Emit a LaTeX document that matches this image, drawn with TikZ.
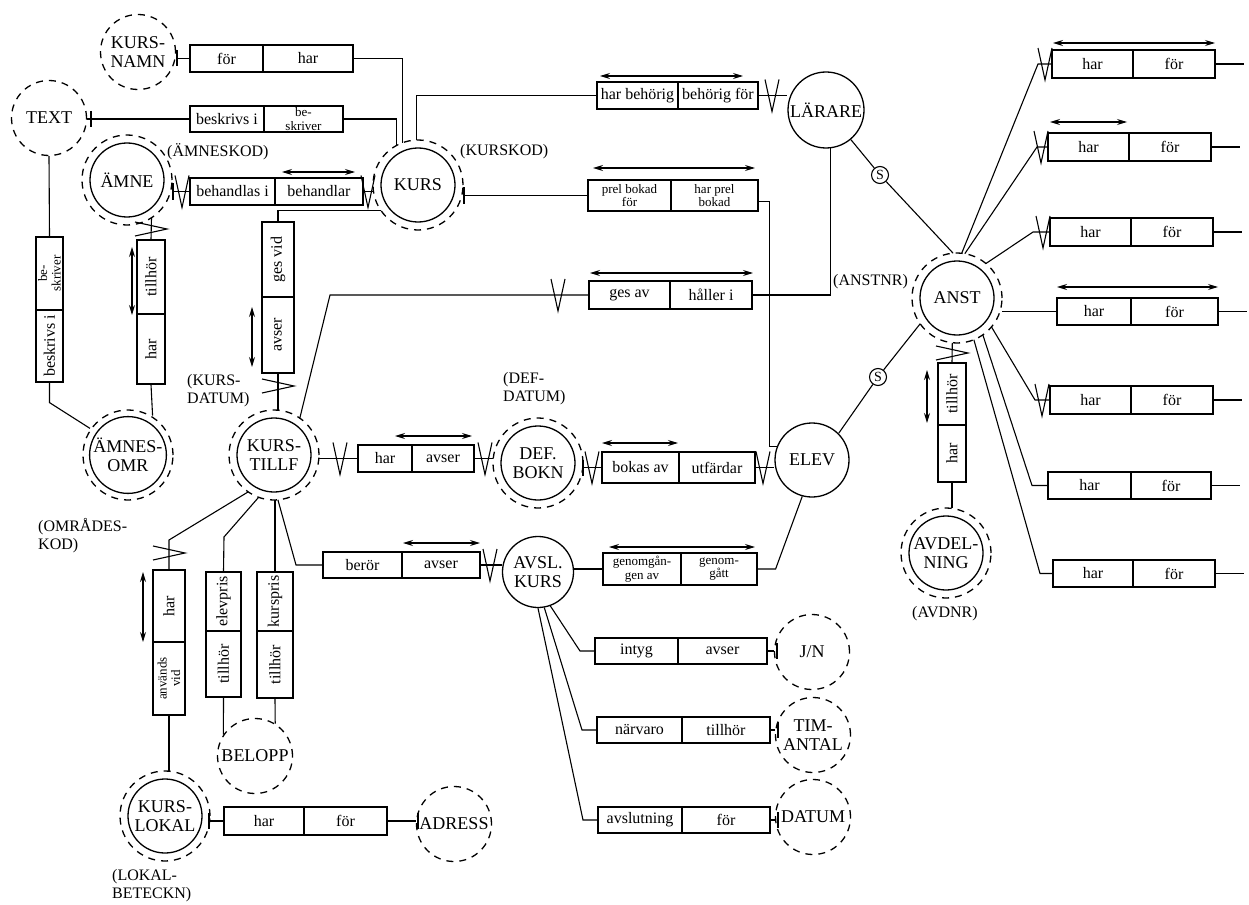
\documentclass[tikz,border=0pt]{standalone}
\usepackage{fontspec}
\setmainfont{Liberation Serif}
\usetikzlibrary{arrows.meta}
\tikzset{
  ln/.style={line width=1.1pt},
  ent/.style={circle, draw, line width=1.3pt, minimum size=74pt, inner sep=0pt, align=center, font=\fontsize{18}{19}\selectfont},
  dent/.style={ent, outer sep=8pt},
  attr/.style={circle, draw, line width=1.3pt, dash pattern=on 7pt off 6pt, minimum size=75pt, inner sep=0pt, align=center, font=\fontsize{18}{19}\selectfont},
  ring/.style={line width=1.3pt, dash pattern=on 7pt off 6pt},
  bx/.style={draw, rectangle, line width=1.2pt, inner sep=0pt, align=center, font=\fontsize{16}{13}\selectfont},
  sm/.style={font=\fontsize{13}{13.5}\selectfont},
  lab/.style={align=left, anchor=west, font=\fontsize{16}{18}\selectfont, inner sep=0pt},
  arr/.style={line width=1.1pt, {Stealth[length=10pt,width=6pt]}-{Stealth[length=10pt,width=6pt]}},
  sc/.style={circle, draw, line width=1.1pt, minimum size=17pt, inner sep=0pt, font=\fontsize{14}{14}\selectfont},
}
% horizontal half: name, xleft, xright, ytop, ybottom, text, style
\newcommand\hh[7]{\node[bx,#7, minimum width={#3-#2}, minimum height={#5-#4}] (#1) at ({(#2+#3)/2},{(#4+#5)/2}) {#6};}
% vertical half (text rotated): name, xleft, xright, ytop, ybottom, text, style
\newcommand\vh[7]{\node[bx,rotate=90,#7, minimum width={#5-#4}, minimum height={#3-#2}] (#1) at ({(#2+#3)/2},{(#4+#5)/2}) {#6};}
\newcommand\crowD[2]{\draw[ln] (#1-7,#2-16) -- (#1,#2+16) -- (#1+7,#2-16);}
\newcommand\crowR[2]{\draw[ln] (#1-16,#2-7) -- (#1+16,#2) -- (#1-16,#2+7);}
\newcommand\tk[2]{\draw[ln] (#1,#2-8) -- (#1,#2+8);}
\begin{document}
\begin{tikzpicture}[x=1pt,y=-1pt]
\fill[white] (0,0) rectangle (1249,904);
\useasboundingbox (0,0) rectangle (1249,904);

% ---------- entities ----------
\node[dent] (kurs) at (418,185) {KURS};
\node[dent] (amne) at (127,180) {ÄMNE};
\node[dent] (aomr) at (128,455) {ÄMNES-\\OMR};
\node[dent] (kt) at (274,455) {KURS-\\TILLF};
\node[dent] (def) at (538,463) {DEF.\\BOKN};
\node[ent, minimum size=71pt] (avsl) at (538,572) {AVSL.\\KURS};
\node[ent] (elev) at (812,460) {ELEV};
\node[ent, minimum size=76pt] (lar) at (826,110) {LÄRARE};
\node[dent] (anst) at (957,298) {ANST};
\node[dent] (avd) at (946,553) {AVDEL-\\NING};
\node[dent] (kl) at (165,816) {KURS-\\LOKAL};
\foreach \n in {kurs,amne,aomr,kt,def,anst,avd,kl}
  \draw[ring] (\n.center) circle[radius=45pt];

% ---------- attributes ----------
\node[attr] (knamn) at (138,52) {KURS-\\NAMN};
\node[attr] (txt) at (49,118) {TEXT};
\node[attr] (belopp) at (255,756) {BELOPP};
\node[attr] (adr) at (454,824) {ADRESS};
\node[attr] (jn) at (812,652) {J/N};
\node[attr] (tim) at (813,735) {TIM-\\ANTAL};
\node[attr] (datum) at (813,817) {DATUM};

% ---------- key labels ----------
\node[lab] (l1) at (167,152) {(ÄMNESKOD)};
\node[lab] (l2) at (460,152) {(KURSKOD)};
\node[lab] (l3) at (833,282) {(ANSTNR)};
\node[lab] (l4) at (187,391) {(KURS-\\DATUM)};
\node[lab] (l5) at (503,389) {(DEF-\\DATUM)};
\node[lab] (l6) at (38,536) {(OMRÅDES-\\KOD)};
\node[lab] (l7) at (112,886) {(LOKAL-\\BETECKN)};
\node[lab] (l8) at (912,614) {(AVDNR)};

\node[sc] (s1) at (880,175) {S};
\node[sc] (s2) at (878,377) {S};

% ---------- horizontal relation boxes ----------
\hh{H1l}{190}{263}{45}{72}{för}{}
\hh{H1r}{263}{353}{45}{72}{har}{}
\hh{H2l}{190}{264}{106}{132}{beskrivs i}{}
\hh{H2r}{264}{343}{106}{132}{be-\\skriver}{sm}
\hh{H3l}{190}{275}{178}{205}{behandlas i}{}
\hh{H3r}{275}{363}{178}{205}{behandlar}{}
\hh{H4l}{597}{678}{82}{109}{har behörig}{}
\hh{H4r}{678}{758}{82}{109}{behörig för}{}
\hh{H5l}{588}{671}{180}{211}{prel bokad\\för}{sm}
\hh{H5r}{671}{758}{180}{211}{har prel\\bokad}{sm}
\hh{H6l}{589}{670}{281}{309}{ges av}{}
\hh{H6r}{670}{752}{281}{309}{håller i}{}
\hh{H7l}{358}{412}{445}{472}{har}{}
\hh{H7r}{412}{474}{445}{472}{avser}{}
\hh{H8l}{602}{679}{452}{483}{bokas av}{}
\hh{H8r}{679}{755}{452}{483}{utfärdar}{}
\hh{H9l}{323}{402}{552}{578}{berör}{}
\hh{H9r}{402}{480}{552}{578}{avser}{}
\hh{H10l}{603}{681}{553}{585}{genomgån-\\gen av}{sm}
\hh{H10r}{681}{757}{553}{585}{genom-\\gått}{sm}
\hh{H11l}{595}{678}{638}{664}{intyg}{}
\hh{H11r}{678}{767}{638}{664}{avser}{}
\hh{H12l}{597}{682}{717}{743}{närvaro}{}
\hh{H12r}{682}{770}{717}{743}{tillhör}{}
\hh{H13l}{598}{682}{807}{833}{avslutning}{}
\hh{H13r}{682}{770}{807}{833}{för}{}
\hh{H14l}{224}{304}{807}{835}{har}{}
\hh{H14r}{304}{387}{807}{835}{för}{}
% right column
\hh{Rl1}{1052}{1133}{50}{78}{har}{}
\hh{Rr1}{1133}{1215}{50}{78}{för}{}
\hh{Rl2}{1048}{1129}{133}{161}{har}{}
\hh{Rr2}{1129}{1211}{133}{161}{för}{}
\hh{Rl3}{1050}{1131}{218}{246}{har}{}
\hh{Rr3}{1131}{1213}{218}{246}{för}{}
\hh{Rl4}{1057}{1131}{298}{325}{har}{}
\hh{Rr4}{1131}{1218}{298}{325}{för}{}
\hh{Rl5}{1050}{1131}{386}{414}{har}{}
\hh{Rr5}{1131}{1213}{386}{414}{för}{}
\hh{Rl6}{1048}{1131}{472}{499}{har}{}
\hh{Rr6}{1131}{1211}{472}{499}{för}{}
\hh{Rl7}{1053}{1133}{560}{587}{har}{}
\hh{Rr7}{1133}{1215}{560}{587}{för}{}

% ---------- vertical relation boxes ----------
\vh{V1t}{36}{63}{237}{310}{be-\\skriver}{sm}
\vh{V1b}{36}{63}{310}{382}{beskrivs i}{}
\vh{V2t}{137}{165}{240}{314}{tillhör}{}
\vh{V2b}{137}{165}{314}{384}{har}{}
\vh{V3t}{262}{294}{222}{297}{ges vid}{}
\vh{V3b}{262}{294}{297}{373}{avser}{}
\vh{V4t}{153}{185}{570}{642}{har}{}
\vh{V4b}{153}{185}{642}{715}{används\\vid}{sm}
\vh{V5t}{206}{241}{572}{631}{elevpris}{}
\vh{V5b}{206}{241}{631}{697}{tillhör}{}
\vh{V6t}{257}{293}{572}{631}{kurspris}{}
\vh{V6b}{257}{293}{631}{698}{tillhör}{}
\vh{V7t}{938}{966}{363}{425}{tillhör}{}
\vh{V7b}{938}{966}{425}{482}{har}{}

% ---------- connectors ----------
\draw[ln] (knamn.east |- H1l.west) -- (H1l.west);
\draw[ln] (H1r.east) -| (kurs.110);
\draw[ln] (txt.east |- H2l.west) -- (H2l.west);
\draw[ln] (H2r.east) -| (kurs.118);
\draw[ln] (amne.east |- H3l.west) -- (H3l.west);
\draw[ln] (H3r.east) -- (H3r.east -| kurs.west);
\draw[ln] (kurs.215) -| (V3t.east);
\draw[ln] (V3b.west) -- (V3b.west |- kt.north);
\draw[ln] (kurs.92) |- (H4l.west);
\draw[ln] (H4r.east) -- (H4r.east -| lar.west);
\draw[ln] (kurs.east |- H5l.west) -- (H5l.west);
\draw[ln] ([yshift=-6pt]H5r.east) -- ++(11,0) |- (elev.159);
\draw[ln] (kt.55) -- (330,295) -- (H6l.west);
\draw[ln] (H6r.east) -| (lar.-84);
\draw[ln] (kt.east |- H7l.west) -- (H7l.west);
\draw[ln] (H7r.east) -- (H7r.east -| def.west);
\draw[ln] (def.east |- H8l.west) -- (H8l.west);
\draw[ln] (H8r.east) -- (H8r.east -| elev.west);
\draw[ln] (kt.-85) -- (296,565) -- (H9l.west);
\draw[ln] (H9r.east) -- (H9r.east -| avsl.west);
\draw[ln] (avsl.east |- H10l.west) -- (H10l.west);
\draw[ln] (H10r.east) -- ++(18,0) -- (elev.-105);
\draw[ln] (avsl.-70) -- (580,651) -- (H11l.west);
\draw[ln] (H11r.east) -- (H11r.east -| jn.west);
\draw[ln] (avsl.-80) -- (582,730) -- (H12l.west);
\draw[ln] (H12r.east) -- (H12r.east -| tim.west);
\draw[ln] (avsl.-90) -- (583,820) -- (H13l.west);
\draw[ln] (H13r.east) -- (H13r.east -| datum.west);
\draw[ln] (kl.east |- H14l.west) -- (H14l.west);
\draw[ln] (H14r.east) -- (H14r.east -| adr.west);
\draw[ln] (kt.235) -- (169,540) -- (V4t.east);
\draw[ln] (V4b.west) -- (V4b.west |- kl.north);
\draw[ln] (kt.250) -- (224,537) -- (V5t.east);
\draw[ln] (V5b.west) -- (belopp.146);
\draw[ln] (V6t.east) -- (V6t.east |- kt.south);
\draw[ln] (V6b.west) -- (belopp.58);
\draw[ln] (V2t.east) -- (amne.-57);
\draw[ln] (V2b.west) -- (aomr.58);
\draw[ln] (txt.south) -- (V1t.east);
\draw[ln] (V1b.west) -- ++(0,20) -- (aomr.145);
\draw[ln] (V7t.east) -- (anst.-96);
\draw[ln] (V7b.west) -- (V7b.west |- avd.north);
\draw[ln] (lar.-50) -- (s1) -- (anst.95);
\draw[ln] (elev.45) -- (s2) -- (anst.215);
\draw[ln] (anst.84) -- (1038,64) -- (Rl1.west);
\draw[ln] (anst.80) -- (1037,147) -- (Rl2.west);
\draw[ln] (anst.50) -- (1033,232) -- (Rl3.west);
\draw[ln] (Rl4.west -| anst.east) -- (Rl4.west);
\draw[ln] (anst.-40) -- (1035,400) -- (Rl5.west);
\draw[ln] (anst.-55) -- (1032,485.5) -- (Rl6.west);
\draw[ln] (anst.-68) -- (1040,573.5) -- (Rl7.west);
\foreach \i in {1,...,7} \draw[ln] (Rr\i.east) -- ++(28,0);

% ---------- cardinality marks ----------
\crowD{182}{191.5} \tk{173}{191.5}
\crowD{368}{191.5}
\crowD{772}{95.5}
\crowD{558}{295}
\crowD{340}{458.5}
\crowD{485}{458.5}
\crowD{592}{467.5} \tk{583}{467.5}
\crowD{763}{467.5}
\crowD{490}{565}
\crowD{1045}{64}
\crowD{1041}{147}
\crowD{1043}{232}
\crowD{1042}{400}
\crowR{278}{386}
\crowR{151}{229}
\crowR{169}{553}
\crowR{952}{353}
\tk{177}{58.5}
\tk{91}{119}
\tk{464}{195.5}
\tk{777}{651}
\tk{778}{730}
\tk{778}{820}
\tk{209}{821}
\tk{418}{821}

% ---------- direction arrows ----------
\draw[arr] (282,172) -- (355,172);
\draw[arr] (600,76) -- (743,76);
\draw[arr] (593,168) -- (755,168);
\draw[arr] (590,273) -- (753,273);
\draw[arr] (395,436) -- (472,436);
\draw[arr] (602,443) -- (678,443);
\draw[arr] (403,543) -- (480,543);
\draw[arr] (609,547) -- (755,547);
\draw[arr] (1053,43) -- (1215,43);
\draw[arr] (1050,122) -- (1127,122);
\draw[arr] (1057,287) -- (1218,287);
\draw[arr] (132,247) -- (132,315);
\draw[arr] (252,307) -- (252,367);
\draw[arr] (143,572) -- (143,642);
\draw[arr] (927,370) -- (927,423);
\end{tikzpicture}
\end{document}
